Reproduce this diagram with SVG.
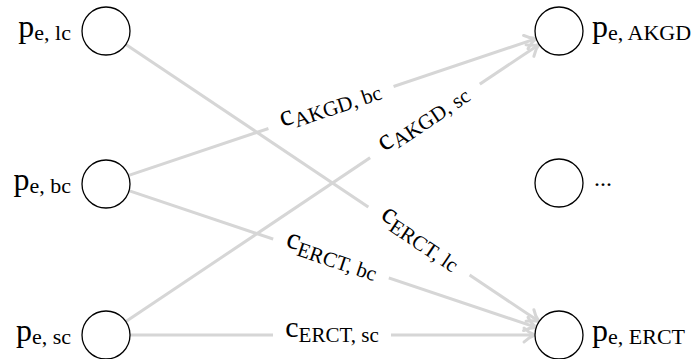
<svg xmlns="http://www.w3.org/2000/svg" width="699" height="359" viewBox="0 0 699 359">
<defs>
<style>
.node circle{fill:#fff;stroke:#000;stroke-width:1.3}
.lbl{font-family:"Liberation Serif","Times New Roman",serif;font-size:30px;fill:#000}
.nl{font-size:32px}
.sub{font-size:21px}
.nsub{font-size:22px}
.edge{stroke:#d6d6d6;stroke-width:3;fill:none}
.bg{fill:#fff}
</style>
<marker id="arr" markerUnits="userSpaceOnUse" markerWidth="20" markerHeight="20" refX="0" refY="0" orient="auto" overflow="visible">
<path d="M-11,-7 C-7,-3 -3,-1 0,0 C-3,1 -7,3 -11,7" fill="none" stroke="#d6d6d6" stroke-width="3" stroke-linecap="round"/>
</marker>
</defs>
<rect width="699" height="359" fill="#fff"/>
<g id="connectors">
<line class="edge" x1="125.9" y1="44.4" x2="539.1" y2="321.6" marker-end="url(#arr)"/>
<line class="edge" x1="128.8" y1="175.4" x2="536.2" y2="38.6" marker-end="url(#arr)"/>
<line class="edge" x1="128.8" y1="190.6" x2="536.2" y2="327.4" marker-end="url(#arr)"/>
<line class="edge" x1="125.9" y1="321.6" x2="539.1" y2="44.4" marker-end="url(#arr)"/>
<line class="edge" x1="130" y1="335" x2="535" y2="335" marker-end="url(#arr)"/>
<g transform="translate(331,107.5) rotate(-18.55)">
<rect class="bg" x="-66" y="-17" width="132" height="30"/>
<text class="lbl" x="0" y="3" text-anchor="middle">c<tspan class="sub" dy="5">AKGD, bc</tspan></text>
</g>
<g transform="translate(425,121) rotate(-33.86)">
<rect class="bg" x="-66" y="-17" width="132" height="30"/>
<text class="lbl" x="0" y="3" text-anchor="middle">c<tspan class="sub" dy="5">AKGD, sc</tspan></text>
</g>
<g transform="translate(419,241) rotate(33.86)">
<rect class="bg" x="-61" y="-17" width="122" height="30"/>
<text class="lbl" x="0" y="3" text-anchor="middle">c<tspan class="sub" dy="5">ERCT, lc</tspan></text>
</g>
<g transform="translate(331,258.5) rotate(18.55)">
<rect class="bg" x="-61" y="-17" width="122" height="30"/>
<text class="lbl" x="0" y="3" text-anchor="middle">c<tspan class="sub" dy="5">ERCT, bc</tspan></text>
</g>
<g transform="translate(332,335)">
<rect class="bg" x="-59" y="-17" width="118" height="30"/>
<text class="lbl" x="0" y="2" text-anchor="middle">c<tspan class="sub" dy="5">ERCT, sc</tspan></text>
</g>
</g>
<g id="p_lc" class="node">
<circle cx="106" cy="31" r="24"/>
<text class="lbl nl" x="71" y="37" text-anchor="end">p<tspan class="nsub" dy="3">e, lc</tspan></text>
</g>
<g id="p_bc" class="node">
<circle cx="106" cy="184" r="24"/>
<text class="lbl nl" x="71" y="190" text-anchor="end">p<tspan class="nsub" dy="3">e, bc</tspan></text>
</g>
<g id="p_sc" class="node">
<circle cx="106" cy="335" r="24"/>
<text class="lbl nl" x="71" y="341" text-anchor="end">p<tspan class="nsub" dy="3">e, sc</tspan></text>
</g>
<g id="p_AKGD" class="node">
<circle cx="559" cy="31" r="24"/>
<text class="lbl nl" x="592" y="37">p<tspan class="nsub" dy="3">e, AKGD</tspan></text>
</g>
<g id="p_dots" class="node">
<circle cx="559" cy="183" r="24"/>
<text class="lbl" x="594" y="186" style="font-size:24px">...</text>
</g>
<g id="p_ERCT" class="node">
<circle cx="559" cy="335" r="24"/>
<text class="lbl nl" x="592" y="341">p<tspan class="nsub" dy="3">e, ERCT</tspan></text>
</g>
</svg>
